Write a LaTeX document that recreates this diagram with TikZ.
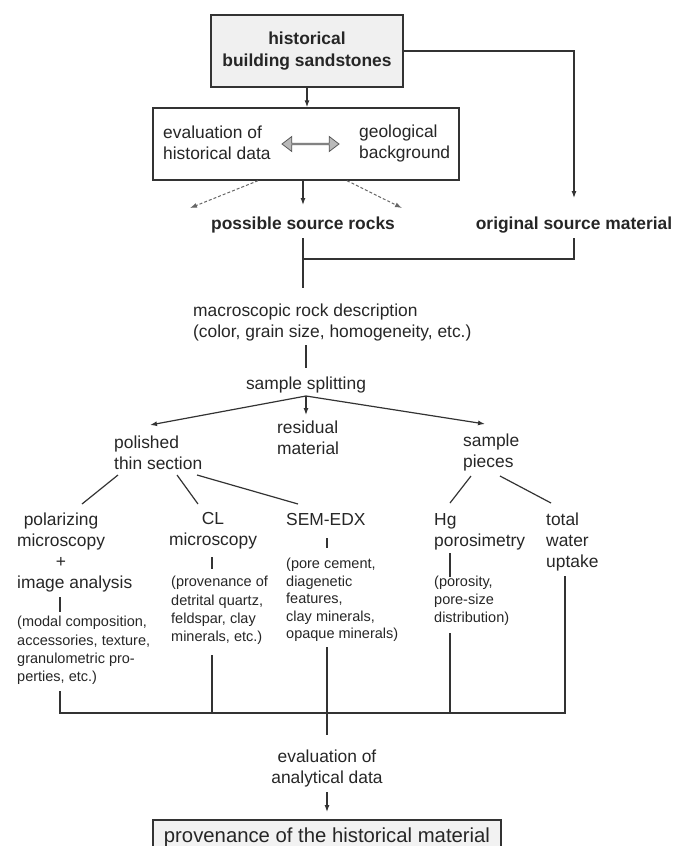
\documentclass[tikz,border=0pt]{standalone}
\usepackage{fontspec}
\setmainfont{Liberation Sans}
\usetikzlibrary{arrows.meta,calc,shapes.arrows}
\begin{document}
\begin{tikzpicture}[x=1pt,y=-1pt,
  every node/.style={inner sep=0pt,text=black!85},
  txt/.style={font=\fontsize{17.4}{21}\selectfont},
  btxt/.style={font=\fontsize{17.4}{22}\selectfont\bfseries},
  small/.style={font=\fontsize{14.5}{18.2}\selectfont,align=left,anchor=west},
  ln/.style={draw=black!80,line width=1.2pt},
  arr/.style={ln,-{Latex[length=7pt,width=5pt]}},
  darr/.style={ln,line width=1pt,draw=black!60,dash pattern=on 3pt off 2pt,-{Latex[length=7pt,width=5pt]}},
  boxed/.style={draw=black!80,line width=1.4pt,rectangle}]
\clip (0,0) rectangle (682,846);
\useasboundingbox (0,0) rectangle (682,846);
% top
\node[boxed,btxt,fill=gray!12,minimum width=192pt,minimum height=72pt,align=center] (top) at (307,51) {historical\\building sandstones};
\node[boxed,fill=white,minimum width=306pt,minimum height=72pt] (box2) at (306,144) {};
\node[txt,align=left,anchor=west] (eh) at (163,143) {evaluation of\\historical data};
\node[txt,align=left,anchor=west] (geo) at (359,143) {geological\\background};
\node[double arrow,draw=black!65,fill=gray!55,line width=0.8pt,minimum height=57pt,minimum width=15pt,double arrow head extend=4pt,double arrow tip angle=75] (dbl) at (310.5,144) {};
\node[btxt] (psr) at (303,225) {possible source rocks};
\node[btxt] (osm) at (574,225) {original source material};
\node[txt,align=left,anchor=west] (mac) at (193,322.5) {macroscopic rock description\\(color, grain size, homogeneity, etc.)};
\node[txt] (split) at (306,385) {sample splitting};
\node[txt,align=left,anchor=west] (pol) at (114,452.5) {polished\\thin section};
\node[txt,align=left,anchor=west] (res) at (277,437.5) {residual\\material};
\node[txt,align=left,anchor=west] (pcs) at (463,452.5) {sample\\pieces};
\node[txt,align=center] (polar) at (61,540) {polarizing\\microscopy\\+};
\node[txt,anchor=west] (img) at (17,584) {image analysis};
\node[small] (modal) at (17,650.5) {(modal composition,\\accessories, texture,\\granulometric pro-\\perties, etc.)};
\node[txt,align=center] (cl) at (213,530.5) {CL\\microscopy};
\node[small] (prov) at (171,610.5) {(provenance of\\detrital quartz,\\feldspar, clay\\minerals, etc.)};
\node[txt,anchor=west] (sem) at (286,520) {SEM-EDX};
\node[small,font=\fontsize{14.5}{17.6}\selectfont] (pore) at (286,600) {(pore cement,\\diagenetic\\features,\\clay minerals,\\opaque minerals)};
\node[txt,align=left,anchor=west] (hg) at (434,531.5) {Hg\\porosimetry};
\node[small] (poros) at (434,601) {(porosity,\\pore-size\\distribution)};
\node[txt,align=left,anchor=west] (tot) at (546,542) {total\\water\\uptake};
\node[txt,align=center] (evalan) at (327,768.5) {evaluation of\\analytical data};
\node[boxed,fill=gray!10,minimum width=348pt,minimum height=34pt,font=\fontsize{20.3}{24}\selectfont] (fin) at (327,837) {provenance of the historical material};
% connectors
\draw[arr] (top.south) -- (top.south |- box2.north);
\draw[arr] (top.east) -| ($(osm.center)+(0,-27)$);
\draw[arr] (box2.south -| psr) -- ($(psr.center)+(0,-20)$);
\draw[darr] ($(box2.south)+(-48,0)$) -- ($(psr.center)+(-113,-17)$);
\draw[darr] ($(box2.south)+(41,0)$) -- ($(psr.center)+(99,-17)$);
\draw[ln] ($(psr.center)+(0,13)$) -- ($(psr.center)+(0,63)$);
\draw[ln] ($(osm.center)+(0,13)$) |- ($(psr.center)+(0,34)$);
\draw[ln] ($(split.center)+(0,-40)$) -- ($(split.center)+(0,-17)$);
\draw[arr] ($(split.center)+(0,11)$) -- ($(pol.west)+(36,-27.5)$);
\draw[arr] ($(split.center)+(0,11)$) -- ($(res.west)+(29,-22.5)$);
\draw[arr] ($(split.center)+(0,11)$) -- ($(pcs.west)+(22,-28.5)$);
\draw[ln] ($(pol.west)+(4,22.5)$) -- ($(polar.center)+(21,-36)$);
\draw[ln] ($(pol.west)+(63,22.5)$) -- ($(cl.center)+(-15,-26.5)$);
\draw[ln] ($(pol.west)+(83,22.5)$) -- ($(sem.west)+(12,-16)$);
\draw[ln] ($(pcs.west)+(8,23.5)$) -- ($(hg.west)+(16,-28.5)$);
\draw[ln] ($(pcs.west)+(37,23.5)$) -- ($(tot.west)+(5,-39)$);
\draw[ln] ($(img.west)+(43,13)$) -- ($(img.west)+(43,28)$);
\draw[ln] ($(modal.west)+(43,40.5)$) |- ($(tot.west)+(19,171)$) -- ($(tot.west)+(19,34)$);
\draw[ln] ($(cl.center)+(-1,26.5)$) -- ($(cl.center)+(-1,38.5)$);
\draw[ln] ($(prov.west)+(41,44.5)$) -- ($(prov.west)+(41,102.5)$);
\draw[ln] ($(sem.west)+(41,18)$) -- ($(sem.west)+(41,28)$);
\draw[ln] ($(pore.west)+(41,47)$) -- ($(evalan.center)+(0,-33.5)$);
\draw[ln] ($(hg.west)+(16,21.5)$) -- ($(hg.west)+(16,45.5)$);
\draw[ln] ($(poros.west)+(16,32)$) -- ($(poros.west)+(16,112)$);
\draw[arr] ($(evalan.center)+(0,23.5)$) -- ($(fin.center)+(0,-25)$);
\end{tikzpicture}
\end{document}
